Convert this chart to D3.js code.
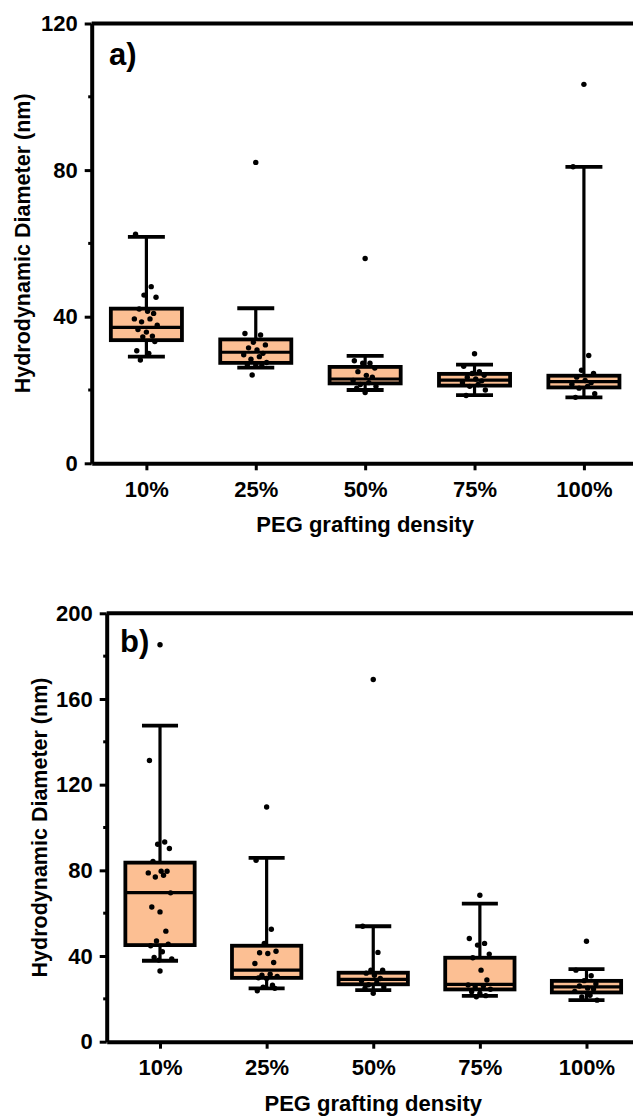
<!DOCTYPE html>
<html>
<head>
<meta charset="utf-8">
<script src="https://cdn.jsdelivr.net/npm/d3@7"></script>
<style>
  html, body { margin: 0; padding: 0; background: #fff; }
  svg { display: block; }
  text { font-family: "Liberation Sans", Arial, sans-serif; font-weight: bold; fill: #000; }
</style>
</head>
<body>
<svg id="chart" width="633" height="1118"></svg>
<script>
// Grafting densities on the x axis
const categories = ["10%", "25%", "50%", "75%", "100%"];

// Panel a) box statistics (nm)
const aQ1 = [33.6, 27.4, 21.8, 21.2, 20.7];
const aMedian = [37.1, 30.3, 23.0, 22.7, 22.3];
const aQ3 = [42.2, 33.8, 26.3, 24.4, 23.9];
const aWhiskerLow = [29.1, 26.1, 20.0, 18.6, 18.0];
const aWhiskerHigh = [61.8, 42.3, 29.3, 26.9, 80.9];
// Panel a) individual measurements
const aPoints = [
  [62.5, 48.2, 45.9, 45.3, 42.1, 41.5, 40.9, 39.4, 39.4, 38.6, 37.7, 36.5, 35.8, 34.7, 34.5, 33.2, 30.7, 30.0, 28.2],
  [35.4, 35.0, 33.0, 32.3, 31.5, 30.9, 30.0, 29.6, 29.1, 28.4, 27.5, 26.9, 26.8, 26.6, 24.1],
  [28.0, 27.3, 27.3, 26.0, 25.0, 24.0, 23.5, 22.6, 22.0, 21.5, 21.0, 20.5, 19.3],
  [26.5, 25.0, 24.5, 24.0, 23.5, 23.0, 22.5, 22.0, 21.5, 21.0, 20.0, 18.5],
  [80.9, 29.4, 25.4, 24.5, 23.5, 22.6, 22.0, 21.6, 21.0, 20.5, 19.0, 18.0]
];
// Panel a) outliers
const aOutliers = [[], [82.1], [55.9], [29.9], [103.4]];
const aTicks = [0, 40, 80, 120];
const aMinorTicks = [20, 60, 100];

// Panel b) box statistics (nm)
const bQ1 = [45.1, 29.8, 26.8, 24.4, 23.0];
const bMedian = [69.6, 33.4, 29.1, 26.8, 25.6];
const bQ3 = [83.6, 44.8, 32.2, 39.2, 28.4];
const bWhiskerLow = [37.8, 24.9, 24.1, 21.4, 19.4];
const bWhiskerHigh = [147.6, 85.8, 53.9, 64.5, 33.9];
// Panel b) individual measurements
const bPoints = [
  [131.3, 93.2, 92.2, 90.2, 84.2, 79.6, 79.6, 78.8, 77.7, 76.9, 69.5, 62.9, 60.6, 51.6, 47.0, 45.5, 44.8, 42.0, 39.3, 38.6, 38.1],
  [84.7, 52.5, 45.9, 42.2, 41.5, 41.2, 37.0, 36.5, 31.5, 31.0, 30.5, 29.8, 29.5, 26.4, 25.5, 24.9, 23.8],
  [53.9, 41.7, 33.4, 33.4, 32.0, 31.0, 29.5, 28.5, 27.5, 26.6, 25.5, 25.0, 22.6],
  [48.2, 45.9, 45.1, 40.9, 39.2, 33.4, 28.8, 26.5, 26.0, 25.5, 24.5, 23.3, 22.5, 21.5, 21.0],
  [33.4, 30.8, 28.5, 27.0, 26.0, 25.0, 24.6, 23.5, 21.7, 20.9, 19.4]
];
// Panel b) outliers
const bOutliers = [[185.3, 33.0], [109.6], [169.1], [68.4], [46.9]];
const bTicks = [0, 40, 80, 120, 160, 200];
const bMinorTicks = [20, 60, 100, 140, 180];

const yTitle = "Hydrodynamic Diameter (nm)";
const xTitle = "PEG grafting density";

const svg = d3.select("#chart");
const boxFill = "#fcbf93";

function drawPanel(cfg) {
  const g = svg.append("g");
  const x = d3.scaleLinear().domain([0.5, 5.5]).range([cfg.left, cfg.right]);
  const y = d3.scaleLinear().domain([0, cfg.max]).range([cfg.bottom, cfg.top]);
  const step = x(2) - x(1);
  const boxW = step * 0.65;
  const capW = boxW * 0.52;

  // frame top line
  g.append("line")
    .attr("x1", cfg.left).attr("x2", cfg.right + 10)
    .attr("y1", y(cfg.max)).attr("y2", y(cfg.max))
    .attr("stroke", "#000").attr("stroke-width", 4);

  // minor y ticks
  g.selectAll(".minor").data(cfg.minor).join("line")
    .attr("x1", cfg.left - 3.5).attr("x2", cfg.left)
    .attr("y1", d => y(d)).attr("y2", d => y(d))
    .attr("stroke", "#000").attr("stroke-width", 3);

  // y axis
  const ya = g.append("g").attr("transform", `translate(${cfg.left},0)`)
    .call(d3.axisLeft(y).tickValues(cfg.ticks).tickSize(7).tickPadding(7).tickSizeOuter(0));
  ya.select(".domain").attr("stroke-width", 4);
  ya.selectAll(".tick line").attr("stroke-width", 3);
  ya.selectAll("text").style("font-size", "22px").attr("font-family", null);

  // x axis
  const xa = g.append("g").attr("transform", `translate(0,${cfg.bottom})`)
    .call(d3.axisBottom(x).tickValues([1, 2, 3, 4, 5])
      .tickFormat(d => categories[d - 1]).tickSize(7).tickPadding(11).tickSizeOuter(0));
  xa.select(".domain").attr("stroke-width", 4);
  xa.selectAll(".tick line").attr("stroke-width", 3);
  xa.selectAll("text").style("font-size", "22px").attr("font-family", null);

  const stats = categories.map((c, i) => ({
    i, cx: x(i + 1),
    q1: cfg.q1[i], med: cfg.med[i], q3: cfg.q3[i],
    lo: cfg.lo[i], hi: cfg.hi[i]
  }));

  const box = g.selectAll(".box").data(stats).join("g");
  // whisker stems
  box.append("line")
    .attr("x1", d => d.cx).attr("x2", d => d.cx)
    .attr("y1", d => y(d.hi)).attr("y2", d => y(d.lo))
    .attr("stroke", "#000").attr("stroke-width", 3.2);
  // whisker caps
  box.selectAll(".cap").data(d => [{cx: d.cx, v: d.hi}, {cx: d.cx, v: d.lo}]).join("line")
    .attr("x1", d => d.cx - capW / 2).attr("x2", d => d.cx + capW / 2)
    .attr("y1", d => y(d.v)).attr("y2", d => y(d.v))
    .attr("stroke", "#000").attr("stroke-width", 3.8);
  // boxes
  box.append("rect")
    .attr("x", d => d.cx - boxW / 2).attr("width", boxW)
    .attr("y", d => y(d.q3)).attr("height", d => y(d.q1) - y(d.q3))
    .attr("fill", boxFill).attr("stroke", "#000").attr("stroke-width", 3.8);
  // medians
  box.append("line")
    .attr("x1", d => d.cx - boxW / 2).attr("x2", d => d.cx + boxW / 2)
    .attr("y1", d => y(d.med)).attr("y2", d => y(d.med))
    .attr("stroke", "#000").attr("stroke-width", 3.2);

  // individual measurements, spread a little around each box centre
  const pattern = [-0.9, 0.4, -0.2, 0.8, -0.6, 0.1, 0.6, -1.0, 0.3, -0.4, 0.9, -0.7, 0.0, 0.5, -0.3, 0.7, -0.8, 0.2, -0.5, 1.0, -0.1];
  const pts = [];
  cfg.points.forEach((arr, i) => arr.forEach((v, j) => pts.push({cx: x(i + 1) + pattern[j % pattern.length] * step * 0.11, v})));
  cfg.outliers.forEach((arr, i) => arr.forEach(v => pts.push({cx: x(i + 1), v})));
  g.selectAll(".pt").data(pts).join("circle")
    .attr("cx", d => d.cx).attr("cy", d => y(d.v)).attr("r", 2.7).attr("fill", "#000");

  // panel label
  g.append("text").attr("x", cfg.labelX).attr("y", cfg.labelY)
    .style("font-size", "31px").text(cfg.label);

  // axis titles
  g.append("text")
    .attr("transform", `translate(${cfg.yTitleX},${(cfg.top + cfg.bottom) / 2}) rotate(-90)`)
    .attr("text-anchor", "middle").attr("dy", "0.35em")
    .style("font-size", "21.5px").text(yTitle);
  g.append("text")
    .attr("x", (cfg.left + cfg.right) / 2).attr("y", cfg.xTitleY)
    .attr("text-anchor", "middle")
    .style("font-size", "22px").text(xTitle);
}

drawPanel({
  left: 91.7, right: 638.6, top: 23.5, bottom: 463.3, max: 120,
  ticks: aTicks, minor: aMinorTicks,
  q1: aQ1, med: aMedian, q3: aQ3, lo: aWhiskerLow, hi: aWhiskerHigh,
  points: aPoints, outliers: aOutliers,
  label: "a)", labelX: 109, labelY: 65, yTitleX: 22, xTitleY: 532
});

drawPanel({
  left: 106.7, right: 639.8, top: 613.3, bottom: 1041.7, max: 200,
  ticks: bTicks, minor: bMinorTicks,
  q1: bQ1, med: bMedian, q3: bQ3, lo: bWhiskerLow, hi: bWhiskerHigh,
  points: bPoints, outliers: bOutliers,
  label: "b)", labelX: 120, labelY: 652, yTitleX: 39, xTitleY: 1111
});
</script>
</body>
</html>
